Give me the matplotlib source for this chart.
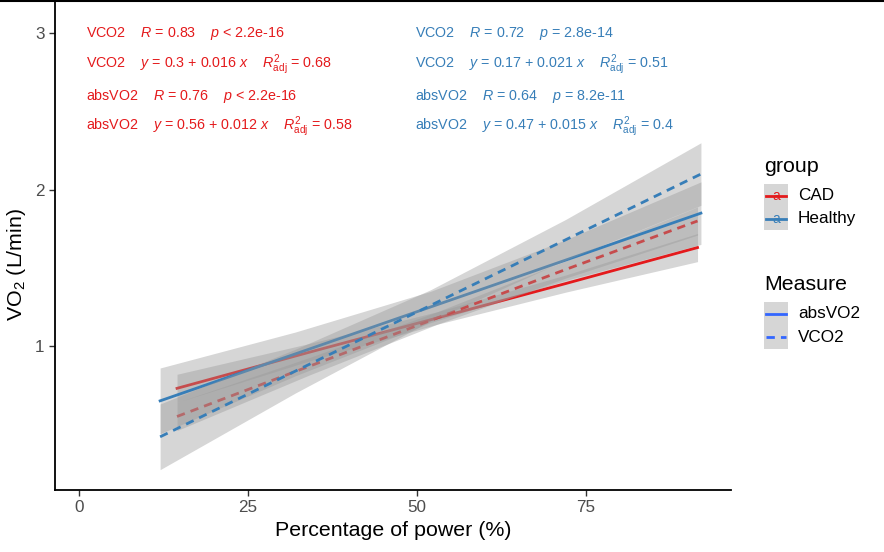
import numpy as np
import matplotlib
matplotlib.use("Agg")
import matplotlib.pyplot as plt
from matplotlib.patches import Rectangle
from matplotlib.lines import Line2D

plt.rcParams['font.family'] = ['Liberation Sans', 'DejaVu Sans']
plt.rcParams['mathtext.fontset'] = 'custom'
plt.rcParams['mathtext.rm'] = 'Liberation Sans'
plt.rcParams['mathtext.it'] = 'Liberation Sans:italic'
plt.rcParams['mathtext.bf'] = 'Liberation Sans:bold'

# fitted lines (x in %, y in L/min) + half width of the 95% band
cad_x = [14.5, 34, 53, 72, 91.5]
cad_abs = [0.73, 0.96, 1.18, 1.40, 1.63]
cad_vco2 = [0.55, 0.87, 1.18, 1.49, 1.80]
cad_ci = [0.09, 0.056, 0.04, 0.055, 0.09]

hea_x = [12, 32, 52, 72, 92]
hea_abs = [0.65, 0.95, 1.25, 1.55, 1.85]
hea_vco2 = [0.42, 0.84, 1.26, 1.68, 2.10]
hea_ci = [0.21, 0.14, 0.10, 0.13, 0.20]

cad_labels = [
    r"VCO2    $R$ = 0.83    $p$ < 2.2e-16",
    r"VCO2    $y$ = 0.3 + 0.016 $x$    $R^{2}_{\mathrm{adj}}$ = 0.68",
    r"absVO2    $R$ = 0.76    $p$ < 2.2e-16",
    r"absVO2    $y$ = 0.56 + 0.012 $x$    $R^{2}_{\mathrm{adj}}$ = 0.58",
]
hea_labels = [
    r"VCO2    $R$ = 0.72    $p$ = 2.8e-14",
    r"VCO2    $y$ = 0.17 + 0.021 $x$    $R^{2}_{\mathrm{adj}}$ = 0.51",
    r"absVO2    $R$ = 0.64    $p$ = 8.2e-11",
    r"absVO2    $y$ = 0.47 + 0.015 $x$    $R^{2}_{\mathrm{adj}}$ = 0.4",
]
label_y = [3.0, 2.8, 2.6, 2.4]

red = '#E41A1C'
blue = '#377EB8'
dash = (3.0, 2.2)

fig = plt.figure(figsize=(8.84, 5.52), dpi=100)
ax = fig.add_axes([55/884, 1 - 490/552, 676/884, 488/552])

series = [
    (cad_x, cad_abs, cad_ci, red, '-'),
    (cad_x, cad_vco2, cad_ci, red, '--'),
    (hea_x, hea_abs, hea_ci, blue, '-'),
    (hea_x, hea_vco2, hea_ci, blue, '--'),
]
z = 2
for xs, ys, ci, col, ls in series:
    xs = np.array(xs); ys = np.array(ys); ci = np.array(ci)
    ax.fill_between(xs, ys - ci, ys + ci, color='#999999', alpha=0.4, lw=0, zorder=z)
    ln, = ax.plot(xs, ys, color=col, lw=2.0, zorder=z + 0.5)
    if ls == '--':
        ln.set_dashes(dash)
    z += 1

for i, s in enumerate(cad_labels):
    ax.text(1.0, label_y[i], s, color=red, fontsize=10.3, va='center', ha='left', zorder=10)
for i, s in enumerate(hea_labels):
    ax.text(49.7, label_y[i], s, color=blue, fontsize=10.3, va='center', ha='left', zorder=10)

ax.set_xlim(-3.55, 96.45)
ax.set_ylim(0.08, 3.2)
ax.set_xticks([0, 25, 50, 75])
ax.set_yticks([1, 2, 3])
for sp in ['top', 'right']:
    ax.spines[sp].set_visible(False)
for sp in ['left', 'bottom']:
    ax.spines[sp].set_linewidth(1.3)
ax.tick_params(length=4, width=1, color='#333333', labelcolor='#4D4D4D', labelsize=12.3)
ax.set_xlabel('Percentage of power (%)', fontsize=15.4)
fig.text(17/884, 1 - 264/552, r'VO$_{2}$ (L/min)', fontsize=15.4, rotation=90,
         ha='center', va='center')

# legend drawn in pixel coordinates
lg = fig.add_axes([0, 0, 1, 1])
lg.set_xlim(0, 884)
lg.set_ylim(552, 0)
lg.axis('off')
lg.patch.set_alpha(0)

lg.text(764, 172, 'group', fontsize=15.4, ha='left', va='baseline')
for i, (name, col) in enumerate([('CAD', red), ('Healthy', blue)]):
    y0 = 184 + 23 * i
    lg.add_patch(Rectangle((764, y0), 24, 23, color='#D6D6D6', lw=0))
    lg.plot([766, 786], [y0 + 11.5, y0 + 11.5], color=col, lw=2.0)
    lg.text(776, y0 + 12, 'a', color=col, fontsize=10, ha='center', va='center')
    lg.text(798, y0 + 12, name, fontsize=12.3, ha='left', va='center')

lg.text(764, 290, 'Measure', fontsize=15.4, ha='left', va='baseline')
for i, name in enumerate(['absVO2', 'VCO2']):
    y0 = 302 + 23.5 * i
    lg.add_patch(Rectangle((764, y0), 24, 23.5, color='#D6D6D6', lw=0))
    ln, = lg.plot([766, 786], [y0 + 11.7, y0 + 11.7], color='#3366FF', lw=2.0)
    if name == 'VCO2':
        ln.set_dashes(dash)
    lg.text(798, y0 + 12, name, fontsize=12.3, ha='left', va='center')

fig.add_artist(Line2D([0, 1], [0.999, 0.999], color='black', lw=1.5, transform=fig.transFigure))

fig.savefig('out.png', dpi=100)
